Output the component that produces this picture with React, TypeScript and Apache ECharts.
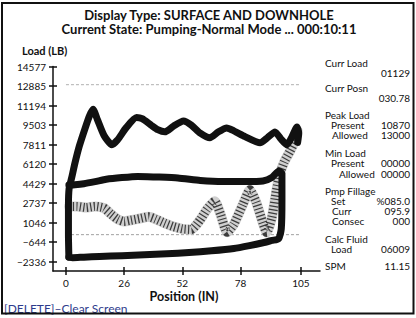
import React, { useEffect, useRef } from "react";
import * as echarts from "echarts";

// ---- data ----
const xTicks = [0, 26, 52, 78, 105];
const yTicks = [-2336, -644, 1046, 2737, 4429, 6120, 7811, 9503, 11194, 12885, 14577];

const peakAllowed = 13000;
const minAllowed = 0;
const strokeStart = 0;
const strokeEnd = 105;

// surface card (upper wave + left side)
const surfaceCard: [number, number][] = [
  [1.3, -1950], [1.1, 0], [1.1, 2500], [1.4, 4000], [2.5, 4900], [4, 6200], [6, 7700],
  [8.5, 9200], [10.5, 10300], [12.1, 10870], [14, 10000], [17, 8600], [20.5, 7790],
  [23, 8200], [27, 9300], [31.5, 10150], [34, 10050], [38, 9500], [41, 9100], [44.2, 8910],
  [48, 9400], [52.5, 9850], [56, 9500], [60, 8800], [64.3, 8400], [68, 8900], [71.8, 9250],
  [75, 9000], [80, 8500], [86.7, 7960], [90, 8400], [93.4, 8900], [96, 8300], [98.7, 7790],
  [101, 8500], [103.2, 9340], [104, 8800], [103.5, 8000],
];

// downhole card loop (thick band near 4.5k, right side, bottom band)
const lowerLoop: [number, number][] = [
  [1.3, 4300], [4, 4330], [8, 4420], [13, 4600], [18, 4800], [25, 4950], [32, 5050],
  [40, 5000], [50, 4920], [60, 4700], [70, 4600], [80, 4600], [88, 4650], [92, 4950],
  [95, 5500], [96.5, 5300], [96.5, 3000], [96.2, 500], [95, -350], [92, -500], [88, -700],
  [82, -950], [75, -1200], [65, -1400], [55, -1550], [45, -1650], [35, -1750], [25, -1820],
  [15, -1900], [8, -1950], [3, -2000], [1.3, -1950],
];

// speckled (grey) trace
const greyTrace: [number, number][] = [
  [1.5, 2450], [5, 2450], [9, 2350], [13, 2450], [17, 2300], [20, 1800], [23, 1350],
  [26, 1150], [29, 1250], [33, 1400], [37, 1550], [40, 1350], [44, 1000], [48, 700],
  [52, 500], [56, 450], [60, 1300], [63, 2200], [66.5, 2900], [69, 1800], [72, 200],
  [75, 900], [79, 2600], [82.2, 3890], [85, 2800], [88, 1000], [89.7, 180], [92, 1500],
  [94, 3800], [95.5, 5200], [97.5, 6300], [100, 7200], [102, 8000], [103.5, 9000],
];

const titleLine1 = "Display Type: SURFACE AND DOWNHOLE";
const titleLine2 = "Current State: Pumping-Normal Mode ... 000:10:11";
const yAxisName = "Load (LB)";
const xAxisName = "Position (IN)";
const footer = "[DELETE]\u2013Clear Screen";

// right panel
const panelHeads = ["Curr Load", "Curr Posn", "Peak Load", "Min Load", "Pmp Fillage", "Calc Fluid", "SPM"];
const panelSubs = ["Present", "Allowed", "Present", "Allowed", "Set", "Curr", "Consec", "Load"];
const panelValues = ["01129", "030.78", "10870", "13000", "00000", "00000", "%085.0", "095.9", "000", "06009", "11.15"];

const FONT = "Lato, 'Open Sans', sans-serif";

export default function App() {
  const ref = useRef<HTMLDivElement>(null);
  useEffect(() => {
    if (!ref.current) return;
    const chart = echarts.init(ref.current, undefined, { renderer: "svg" });

    const txt = (text: string, x: number, y: number, opts: any = {}) => ({
      type: "text",
      x,
      y,
      z: 50,
      style: {
        text,
        fill: opts.fill || "#111",
        font: opts.font || `10px ${FONT}`,
        align: opts.align || "left",
        verticalAlign: "middle",
        lineHeight: opts.lh,
      },
    });

    const headX = 325;
    const valX = 410;
    const pf = `10px ${FONT}`;
    const o = (extra: any = {}) => ({ font: pf, lh: 9, ...extra });
    const panel: any[] = [
      txt(panelHeads[0], headX, 63, o()),
      txt(panelValues[0], valX, 73, o({ align: "right" })),
      txt(panelHeads[1], headX, 88, o()),
      txt(panelValues[1], valX, 98, o({ align: "right" })),
      txt(panelHeads[2], headX, 115, o()),
      txt(panelSubs[0], 331, 125, o()),
      txt(panelValues[2], valX, 125, o({ align: "right" })),
      txt(panelSubs[1], 332, 135, o()),
      txt(panelValues[3], valX, 135, o({ align: "right" })),
      txt(panelHeads[3], headX, 153, o()),
      txt(panelSubs[2], 331, 163, o()),
      txt(panelValues[4], valX, 163, o({ align: "right" })),
      txt(panelSubs[3], 339, 174, o()),
      txt(panelValues[5], valX, 174, o({ align: "right" })),
      txt(panelHeads[4], headX, 191, o()),
      txt(panelSubs[4], 331, 201, o()),
      txt(panelValues[6], valX, 201, o({ align: "right" })),
      txt(panelSubs[5], 332, 211, o()),
      txt(panelValues[7], valX, 211, o({ align: "right" })),
      txt(panelSubs[6], 332, 221, o()),
      txt(panelValues[8], valX, 221, o({ align: "right" })),
      txt(panelHeads[5], headX, 239, o()),
      txt(panelSubs[7], 331, 249, o()),
      txt(panelValues[9], valX, 249, o({ align: "right" })),
      txt(panelHeads[6], headX, 266, o()),
      txt(panelValues[10], valX, 266, o({ align: "right" })),
    ];

    const lineSeries = (data: any, color: string, width: number, type: any = "solid", z = 2, cap = "round") => ({
      type: "line",
      data,
      showSymbol: false,
      symbol: "none",
      smooth: 0.2,
      z,
      lineStyle: { color, width, type, join: "round", cap },
      silent: true,
    });

    const tickStyle = { color: "#111", width: 1.5 };

    chart.setOption({
      animation: false,
      backgroundColor: "#fff",
      grid: { left: 53, right: 96, top: 66.5, bottom: 47 },
      xAxis: [
        {
          type: "value",
          min: -5.8,
          max: 113.5,
          axisLine: { show: true, onZero: false, lineStyle: { color: "#111", width: 1.5 } },
          axisTick: { show: true, customValues: xTicks, length: 4, lineStyle: tickStyle },
          axisLabel: { show: true, customValues: xTicks, color: "#111", fontSize: 10, fontFamily: FONT, margin: 7 },
          splitLine: { show: false },
        },
        {
          type: "value",
          position: "bottom",
          min: -5.8,
          max: 113.5,
          axisLine: { show: false, onZero: false },
          axisTick: { show: true, inside: true, customValues: xTicks, length: 4, lineStyle: tickStyle },
          axisLabel: { show: false },
          splitLine: { show: false },
        },
      ],
      yAxis: [
        {
          type: "value",
          min: -3150,
          max: 14577,
          axisLine: { show: true, onZero: false, lineStyle: { color: "#111", width: 1.5 } },
          axisTick: { show: true, customValues: yTicks, length: 4, lineStyle: tickStyle },
          axisLabel: {
            show: true,
            customValues: yTicks,
            color: "#111",
            fontSize: 10,
            fontFamily: FONT,
            margin: 7,
            formatter: (v: number) => (v < 0 ? "\u2212" + Math.abs(v) : String(v)),
          },
          splitLine: { show: false },
        },
        {
          type: "value",
          position: "left",
          min: -3150,
          max: 14577,
          axisLine: { show: false, onZero: false },
          axisTick: { show: true, inside: true, customValues: yTicks, length: 4, lineStyle: tickStyle },
          axisLabel: { show: false },
          splitLine: { show: false },
        },
      ],
      series: [
        {
          type: "line",
          data: [[strokeStart, peakAllowed], [strokeEnd, peakAllowed]],
          symbol: "none",
          lineStyle: { color: "#b0b0b0", width: 1, type: [3, 2] },
          z: 1,
        },
        {
          type: "line",
          data: [[strokeStart, minAllowed], [strokeEnd, minAllowed]],
          symbol: "none",
          lineStyle: { color: "#a0a0a0", width: 1, type: [3, 2] },
          z: 1,
        },
        lineSeries(greyTrace, "#cfcfcf", 10, "solid", 2),
        lineSeries(greyTrace, "#3c3c3c", 9, [1.2, 2.3], 3, "butt"),
        lineSeries(lowerLoop, "#111", 7, "solid", 4),
        lineSeries(surfaceCard, "#111", 7, "solid", 5),
      ],
      graphic: [
        {
          type: "rect",
          shape: { x: 2, y: 3, width: 411.5, height: 310.5 },
          style: { fill: "none", stroke: "#111", lineWidth: 2 },
          z: 100,
        },
        txt(titleLine1, 209, 15, { font: `bold 13px ${FONT}`, align: "center" }),
        txt(titleLine2, 209, 29, { font: `bold 13px ${FONT}`, align: "center" }),
        txt(yAxisName, 22, 50, { font: `bold 11px ${FONT}` }),
        txt(xAxisName, 184, 296, { font: `bold 12.5px ${FONT}`, align: "center" }),
        txt(footer, 4, 308, { font: `12px ${FONT}`, fill: "#2e3b8c" }),
        ...panel,
      ],
    });
    return () => chart.dispose();
  }, []);
  return (
    <div
      ref={ref}
      style={{ position: "absolute", left: 0, top: 0, width: 416, height: 318 }}
    />
  );
}
